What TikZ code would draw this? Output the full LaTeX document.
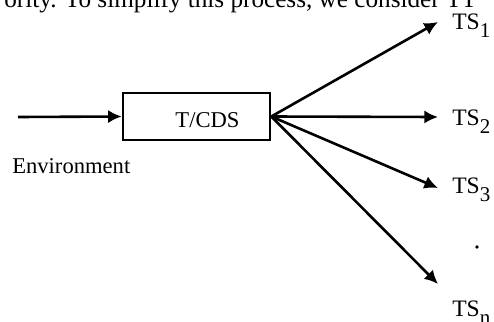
\documentclass[tikz,border=0pt]{standalone}
\usepackage{fontspec}
\setmainfont{Liberation Serif}
\usepackage{tikz}
\usetikzlibrary{arrows.meta}
\newcommand{\tssub}[1]{\raisebox{-4.2pt}{\fontsize{10.5}{10.5}\selectfont #1}}

\begin{document}
\begin{tikzpicture}[x=0.5pt,y=-0.5pt,
	font=\fontsize{11.3}{13}\selectfont,
	line width=1.3pt,
	>={Latex[length=6.8pt,width=6.6pt]},
	lbl/.style={inner sep=0pt,anchor=base west},
	tslbl/.style={lbl,font=\fontsize{11.8}{13}\selectfont}]
	\clip (0,0) rectangle (494,322);
	% cut line of the page text
	\node[lbl,font=\fontsize{12.6}{14}\selectfont] (txt) at (3,7) {ority. To simplify this process, we consider TT};
	% the box
	\node[draw,minimum width=73.5pt,minimum height=23.5pt,inner sep=0pt,
	      text height=10.9pt,text depth=0pt] (tcds) at (196.5,116.5) {\hspace*{11pt}T/CDS};
	\coordinate (in) at (18,117);
	\node[lbl] (env) at (11,173) {Environment};
	\draw[->] (in) -- (tcds.west);
	% arrow ends
	\coordinate (t1) at (438,22);
	\coordinate (t2) at (438,117);
	\coordinate (t3) at (438,188);
	\coordinate (tn) at (438,284);
	\node[tslbl] (ts1) at (451,29) {TS\tssub{1}};
	\node[tslbl] (ts2) at (451,125) {TS\tssub{2}};
	\node[tslbl] (ts3) at (451,193) {TS\tssub{3}};
	\node[tslbl] (tsn) at (451,316) {TS\tssub{n}};
	\fill (477,247) circle (0.9pt);
	\draw[->] (tcds.east) -- (t1);
	\draw[->] (tcds.east) -- (t2);
	\draw[->] (tcds.east) -- (t3);
	\draw[->] (tcds.east) -- (tn);
\end{tikzpicture}
\end{document}
